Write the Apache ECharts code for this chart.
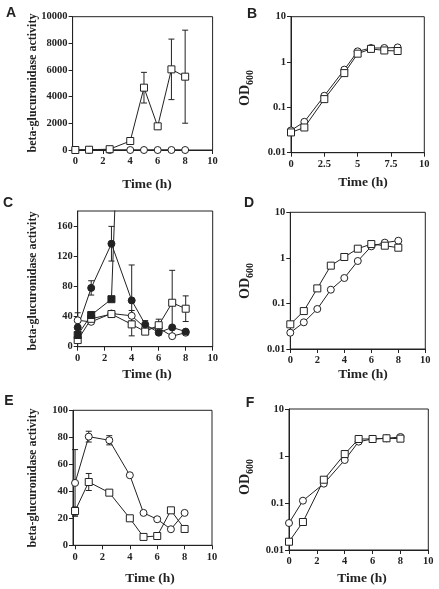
<!DOCTYPE html>
<html>
<head>
<meta charset="utf-8">
<script src="https://cdn.jsdelivr.net/npm/echarts@6/dist/echarts.min.js"></script>
<style>
html,body{margin:0;padding:0;background:#fff;}
#chart{width:439px;height:589px;}
</style>
</head>
<body>
<div id="chart"></div>
<script>
// ---------- Data ----------
const timeA = [0, 1, 2.5, 4, 5, 6, 7, 8];
const aSquare = [0, 20, 60, 675, 4675, 1775, 6050, 5500];
const aSquareErr = [0, 0, 0, 0, 1150, 0, 2270, 3490];
const aCircle = [0, 0, 0, 0, 0, 0, 0, 0];

const timeB = [0, 1, 2.5, 4, 5, 6, 7, 8];
const bCircle = [0.031, 0.048, 0.18, 0.68, 1.72, 2.04, 2.04, 2.1];
const bSquare = [0.028, 0.036, 0.152, 0.57, 1.53, 1.95, 1.8, 1.75];

const timeC = [0, 1, 2.5, 4, 5, 6, 7, 8];
const cFilledCircle = [25.6, 78, 136.6, 61.4, 29.6, 18.6, 25.6, 20];
const cFilledCircleErr = [0, 9.5, 23, 47, 5, 0, 0, 0];
const timeCFilledSquare = [0, 1, 2.5, 4];
const cFilledSquare = [15.5, 42, 63, 780];
const cOpenCircle = [35, 33, 44, 41, 25, 24.5, 14, 18.6];
const cOpenCircleErr = [10, 0, 3, 7, 0, 0, 0, 0];
const cOpenSquare = [8.8, 37, 43.3, 29.6, 20, 28.5, 58.3, 50.4];
const cOpenSquareErr = [0, 0, 0, 0, 0, 8, 43, 17];

const timeD = [0, 1, 2, 3, 4, 5, 6, 7, 8];
const dSquare = [0.0348, 0.068, 0.214, 0.675, 1.045, 1.59, 2.01, 1.85, 1.67];
const dCircle = [0.0228, 0.0385, 0.0755, 0.2, 0.361, 0.853, 1.79, 2.16, 2.38];

const timeE = [0, 1, 2.5, 4, 5, 6, 7, 8];
const eCircle = [46.2, 80.5, 77.8, 51.9, 24, 19.3, 11.9, 24];
const eCircleErr = [24.7, 4, 3.4, 0, 0, 0, 0, 0];
const eSquare = [25.4, 46.9, 39, 20, 6.2, 6.9, 25.9, 12.1];
const eSquareErr = [3, 6.3, 0, 0, 0, 0, 0, 0];

const timeF = [0, 1, 2.5, 4, 5, 6, 7, 8];
const fCircle = [0.0375, 0.112, 0.258, 0.822, 2.02, 2.3, 2.38, 2.54];
const fSquare = [0.015, 0.0394, 0.313, 1.1, 2.3, 2.3, 2.38, 2.34];

const xTicks = [0, 2, 4, 6, 8, 10];
const xTicksB = [0, 2.5, 5, 7.5, 10];
const yTicksA = [0, 2000, 4000, 6000, 8000, 10000];
const yTicksC = [0, 40, 80, 120, 160];
const yTicksE = [0, 20, 40, 60, 80, 100];

const panelLetters = ['A', 'B', 'C', 'D', 'E', 'F'];
const activityTitle = 'beta-glucuronidase activity';
const timeTitle = 'Time (h)';

// ---------- Helpers ----------
const INK = '#222';
const SERIF = "'Liberation Serif','Times New Roman',serif";
const SANS = "'Liberation Sans',Arial,sans-serif";

function pairs(xs, ys) { return xs.map((x, i) => [x, ys[i]]); }
function errData(xs, ys, es) {
  const out = [];
  xs.forEach((x, i) => { if (es[i] > 0) out.push([x, ys[i] - es[i], ys[i] + es[i]]); });
  return out;
}
function errRender(params, api) {
  const x = api.value(0), lo = api.value(1), hi = api.value(2);
  const a = api.coord([x, hi]), b = api.coord([x, lo]);
  const w = 3;
  const st = { stroke: INK, lineWidth: 1 };
  return { type: 'group', children: [
    { type: 'line', shape: { x1: a[0], y1: a[1], x2: b[0], y2: b[1] }, style: st },
    { type: 'line', shape: { x1: a[0] - w, y1: a[1], x2: a[0] + w, y2: a[1] }, style: st },
    { type: 'line', shape: { x1: b[0] - w, y1: b[1], x2: b[0] + w, y2: b[1] }, style: st }
  ]};
}
function errSeries(idx, data) {
  return { type: 'custom', xAxisIndex: idx, yAxisIndex: idx, data: data, renderItem: errRender,
    encode: { x: 0, y: [1, 2] }, z: 1, silent: true };
}
function lineSeries(idx, data, symbol, filled) {
  return {
    type: 'line', xAxisIndex: idx, yAxisIndex: idx, data: data,
    symbol: symbol, symbolSize: 7, showSymbol: true, showAllSymbol: true,
    clip: true, z: 3,
    lineStyle: { color: INK, width: 1 },
    itemStyle: { color: filled ? INK : '#fff', borderColor: INK, borderWidth: 1, opacity: 1 },
    emphasis: { disabled: true }, silent: true
  };
}
const labelStyle = { fontFamily: SERIF, fontWeight: 'bold', fontSize: 10.5, color: INK };
const plain = v => String(+v);

function xAxis(idx, min, ticks) {
  return {
    type: 'value', gridIndex: idx, min: min, max: 10,
    axisLine: { show: true, onZero: false, lineStyle: { color: INK, width: 1 } },
    axisTick: { show: true, inside: false, length: 4, lineStyle: { color: INK }, customValues: ticks },
    axisLabel: Object.assign({ margin: 6, customValues: ticks, formatter: plain }, labelStyle),
    splitLine: { show: false }
  };
}
function yAxisVal(idx, max, ticks) {
  return {
    type: 'value', gridIndex: idx, min: 0, max: max,
    axisLine: { show: true, onZero: false, lineStyle: { color: INK, width: 1 } },
    axisTick: { show: true, inside: false, length: 4, lineStyle: { color: INK }, customValues: ticks },
    axisLabel: Object.assign({ margin: 5, customValues: ticks, formatter: plain }, labelStyle),
    splitLine: { show: false }
  };
}
function yAxisLog(idx) {
  return {
    type: 'log', logBase: 10, gridIndex: idx, min: 0.01, max: 10,
    axisLine: { show: true, onZero: false, lineStyle: { color: INK, width: 1 } },
    axisTick: { show: true, inside: false, length: 4, lineStyle: { color: INK } },
    axisLabel: Object.assign({ margin: 5, formatter: plain }, labelStyle),
    minorTick: { show: false },
    splitLine: { show: false }
  };
}
function grid(left, top, width, height) {
  return { left: left, top: top, width: width, height: height, show: true,
    borderColor: INK, borderWidth: 1, backgroundColor: 'transparent', outerBoundsMode: 'none', containLabel: false };
}

// ---------- Text layout ----------
const letterPos = [[11, 13], [252, 14], [8, 203], [249, 203], [9, 401], [250, 403]];
const timePos = [[147, 185], [363, 183], [147, 375], [363, 375], [150, 579], [362, 579]];
const ytPos = [[33, 83], [247, 88], [33, 281], [247, 281], [33, 478], [247, 477]];

const graphics = [];
panelLetters.forEach((t, i) => graphics.push({ type: 'text', x: letterPos[i][0], y: letterPos[i][1],
  style: { text: t, font: 'bold 14px ' + SANS, fill: INK, align: 'center', verticalAlign: 'middle' } }));
timePos.forEach(p => graphics.push({ type: 'text', x: p[0], y: p[1],
  style: { text: timeTitle, font: 'bold 13.5px ' + SERIF, fill: INK, align: 'center', verticalAlign: 'middle' } }));
ytPos.forEach((p, i) => {
  if (i % 2 === 0) {
    graphics.push({ type: 'text', x: p[0], y: p[1], rotation: Math.PI / 2,
      style: { text: activityTitle, font: 'bold 12px ' + SERIF, fill: INK, align: 'center', verticalAlign: 'middle' } });
  } else {
    graphics.push({ type: 'text', x: p[0], y: p[1], rotation: Math.PI / 2,
      style: { text: '{a|OD}{b|600}', fill: INK, align: 'center', verticalAlign: 'middle',
        rich: {
          a: { fontFamily: SERIF, fontWeight: 'bold', fontSize: 14, lineHeight: 15, verticalAlign: 'top', fill: INK },
          b: { fontFamily: SERIF, fontWeight: 'bold', fontSize: 10, lineHeight: 17, verticalAlign: 'bottom', fill: INK }
        } } });
  }
});

// ---------- Option ----------
const option = {
  animation: false,
  backgroundColor: '#fff',
  grid: [
    grid(72.6, 16.7, 140, 133.3),
    grid(291, 16.7, 133.3, 136),
    grid(77.7, 211, 135, 135.7),
    grid(290.3, 212.3, 135, 136.7),
    grid(73, 410.3, 139, 135),
    grid(289, 409, 139.3, 141)
  ],
  xAxis: [
    xAxis(0, -0.2, xTicks),
    xAxis(1, 0, xTicksB),
    xAxis(2, 0, xTicks),
    xAxis(3, 0, xTicks),
    xAxis(4, -0.15, xTicks),
    xAxis(5, 0, xTicks)
  ],
  yAxis: [
    yAxisVal(0, 10000, yTicksA),
    yAxisLog(1),
    yAxisVal(2, 180, yTicksC),
    yAxisLog(3),
    yAxisVal(4, 100, yTicksE),
    yAxisLog(5)
  ],
  graphic: graphics,
  series: [
    errSeries(0, errData(timeA, aSquare, aSquareErr)),
    lineSeries(0, pairs(timeA, aCircle), 'circle', false),
    lineSeries(0, pairs(timeA, aSquare), 'rect', false),

    lineSeries(1, pairs(timeB, bCircle), 'circle', false),
    lineSeries(1, pairs(timeB, bSquare), 'rect', false),

    errSeries(2, errData(timeC, cFilledCircle, cFilledCircleErr)),
    errSeries(2, errData(timeC, cOpenCircle, cOpenCircleErr)),
    errSeries(2, errData(timeC, cOpenSquare, cOpenSquareErr)),
    lineSeries(2, pairs(timeC, cOpenCircle), 'circle', false),
    lineSeries(2, pairs(timeC, cOpenSquare), 'rect', false),
    lineSeries(2, pairs(timeCFilledSquare, cFilledSquare), 'rect', true),
    lineSeries(2, pairs(timeC, cFilledCircle), 'circle', true),

    lineSeries(3, pairs(timeD, dCircle), 'circle', false),
    lineSeries(3, pairs(timeD, dSquare), 'rect', false),

    errSeries(4, errData(timeE, eCircle, eCircleErr)),
    errSeries(4, errData(timeE, eSquare, eSquareErr)),
    lineSeries(4, pairs(timeE, eCircle), 'circle', false),
    lineSeries(4, pairs(timeE, eSquare), 'rect', false),

    lineSeries(5, pairs(timeF, fCircle), 'circle', false),
    lineSeries(5, pairs(timeF, fSquare), 'rect', false)
  ]
};
const chart = echarts.init(document.getElementById('chart'), null, { renderer: 'canvas' });
chart.setOption(option);
</script>
</body>
</html>
